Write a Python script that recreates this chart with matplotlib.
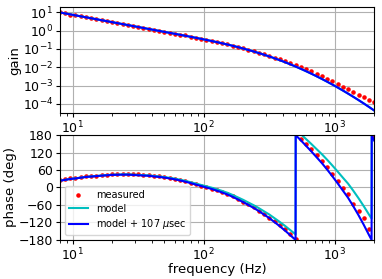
import numpy as np
import matplotlib
matplotlib.use("Agg")
import matplotlib.pyplot as plt

# measured points (Hz, log10 gain, phase in deg)
freq = [7.94, 8.71, 9.55, 10.47, 11.48, 12.59, 13.80, 15.14, 16.60, 18.20,
        19.95, 21.88, 23.99, 26.30, 28.84, 31.62, 34.67, 38.02, 41.69, 45.71,
        50.12, 54.95, 60.26, 66.07, 72.44, 79.43, 87.10, 95.50, 104.7, 114.8,
        125.9, 138.0, 151.4, 166.0, 182.0, 199.5, 218.8, 239.9, 263.0, 288.4,
        316.2, 346.7, 380.2, 416.9, 457.1, 501.2, 549.5, 602.6, 660.7, 724.4,
        794.3, 871.0, 955.0, 1047, 1148, 1259, 1380, 1514, 1660, 1820, 1995]
meas_gain_log10 = [0.99, 0.95, 0.87, 0.84, 0.79, 0.72, 0.66, 0.63, 0.57, 0.52,
                   0.47, 0.41, 0.36, 0.31, 0.25, 0.20, 0.15, 0.09, 0.05, -0.01,
                   -0.06, -0.12, -0.17, -0.22, -0.27, -0.33, -0.39, -0.44, -0.50, -0.56,
                   -0.62, -0.69, -0.74, -0.82, -0.89, -0.96, -1.05, -1.12, -1.21, -1.30,
                   -1.39, -1.49, -1.58, -1.68, -1.77, -1.87, -1.97, -2.10, -2.21, -2.35,
                   -2.48, -2.62, -2.76, -2.91, -3.07, -3.21, -3.36, -3.51, -3.64, -3.78,
                   -3.92]
meas_phase = [24, 28, 31, 33, 35, 38, 40, 41, 43, 44,
              45, 45, 46, 46, 45, 45, 42, 43, 40, 38,
              36, 32, 30, 26, 22, 17, 11, 6, 1, -4,
              -10, -16, -22, -30, -39, -49, -58, -68, -79, -91,
              -103, -115, -130, -144, -160, -178, 168, 150, 131, 111,
              91, 71, 48, 23, -3, -22, -58, -80, -106, -143,
              172]

# model curves
model_freq = [7.94, 8.71, 9.55, 10.47, 11.48, 12.59, 13.80, 15.14, 16.60, 18.20,
              19.95, 21.88, 23.99, 26.30, 28.84, 31.62, 34.67, 38.02, 41.69, 45.71,
              50.12, 54.95, 60.26, 66.07, 72.44, 79.43, 87.10, 95.50, 104.7, 114.8,
              125.9, 138.0, 151.4, 166.0, 182.0, 199.5, 218.8, 239.9, 263.0, 288.4,
              316.2, 346.7, 380.2, 416.9, 457.1, 501.2, 502.3, 549.5, 602.6, 660.7,
              724.4, 794.3, 871.0, 955.0, 1047, 1148, 1259, 1380, 1514, 1660,
              1820, 1905, 1910, 1995]
model_gain_log10 = [0.990, 0.937, 0.884, 0.830, 0.777, 0.724, 0.671, 0.618, 0.564, 0.511,
                    0.458, 0.405, 0.352, 0.298, 0.245, 0.192, 0.139, 0.086, 0.032, -0.021,
                    -0.074, -0.127, -0.180, -0.234, -0.288, -0.342, -0.398, -0.454, -0.512, -0.572,
                    -0.633, -0.697, -0.763, -0.832, -0.904, -0.980, -1.060, -1.143, -1.229, -1.320,
                    -1.415, -1.515, -1.620, -1.730, -1.845, -1.965, -1.968, -2.090, -2.220, -2.355,
                    -2.495, -2.640, -2.790, -2.945, -3.105, -3.270, -3.440, -3.615, -3.795, -3.980,
                    -4.170, -4.267, -4.272, -4.365]
model_phase = [23.3, 26.3, 29.4, 31.4, 33.9, 36.5, 38.0, 39.6, 41.1, 42.7,
               43.8, 44.3, 44.9, 45.0, 44.1, 43.2, 42.3, 41.5, 39.6, 37.8,
               35.9, 33.1, 30.3, 26.5, 22.8, 18.1, 13.4, 8.7, 4.0, -0.6,
               -6.2, -11.7, -18.2, -25.6, -34.0, -42.3, -51.6, -60.8, -70.9, -81.9,
               -92.8, -105.6, -118.4, -131.9, -146.4, -160.7, 198.8, 183.2, 166.2, 149.4,
               131.9, 114.6, 95.6, 75.8, 55.3, 34.2, 13.5, -10.8, -36.7, -64.1,
               -92.9, -106.6, 252.6, 237.8]
delay_phase = [23, 26, 29, 31, 33.5, 36, 37.5, 39, 40.5, 42,
               43, 43.5, 44, 44, 43, 42, 41, 40, 38, 36,
               34, 31, 28, 24, 20, 15, 10, 5, 0, -5,
               -11, -17, -24, -32, -41, -50, -60, -70, -81, -93,
               -105, -119, -133, -148, -164, -180, 179.5, 162, 143, 124,
               104, 84, 62, 39, 15, -10, -35, -64, -95, -128,
               -163, -180, 179, 161]

plt.rcParams['font.size'] = 9
plt.rcParams['axes.labelsize'] = 9.5

fig = plt.figure(figsize=(3.82, 2.79), dpi=100)
ax1 = fig.add_axes([0.157, 0.595, 0.823, 0.379])
ax2 = fig.add_axes([0.157, 0.140, 0.823, 0.376])

ax1.loglog(freq, 10 ** np.array(meas_gain_log10), 'r.', ms=4.5)
ax1.loglog(model_freq, 10 ** np.array(model_gain_log10), 'c', lw=1.5)
ax1.loglog(model_freq, 10 ** np.array(model_gain_log10), 'b', lw=1.5)
ax1.set_xlim(8, 2000)
ax1.set_ylim(10 ** -4.5, 10 ** 1.27)
ax1.set_yticks([1e1, 1e0, 1e-1, 1e-2, 1e-3, 1e-4])
ax1.set_ylabel('gain', labelpad=1)
ax1.grid(True, which='major')

ax2.semilogx(freq, meas_phase, 'r.', ms=4.5, label='measured')
ax2.semilogx(model_freq, model_phase, 'c', lw=1.5, label='model')
ax2.semilogx(model_freq, delay_phase, 'b', lw=1.5, label=r'model + 107 $\mu$sec')
ax2.set_xlim(8, 2000)
ax2.set_ylim(-180, 180)
ax2.set_yticks(np.arange(-180, 181, 60))
ax2.set_ylabel('phase (deg)', labelpad=1)
ax2.set_xlabel('frequency (Hz)', labelpad=0)
ax2.grid(True, which='major')
ax2.legend(loc='lower left', fontsize=7, labelspacing=0.35)

for ax in (ax1, ax2):
    ax.tick_params(which='major', length=3, pad=2)
    ax.tick_params(which='minor', length=2)

fig.savefig('out.png')
